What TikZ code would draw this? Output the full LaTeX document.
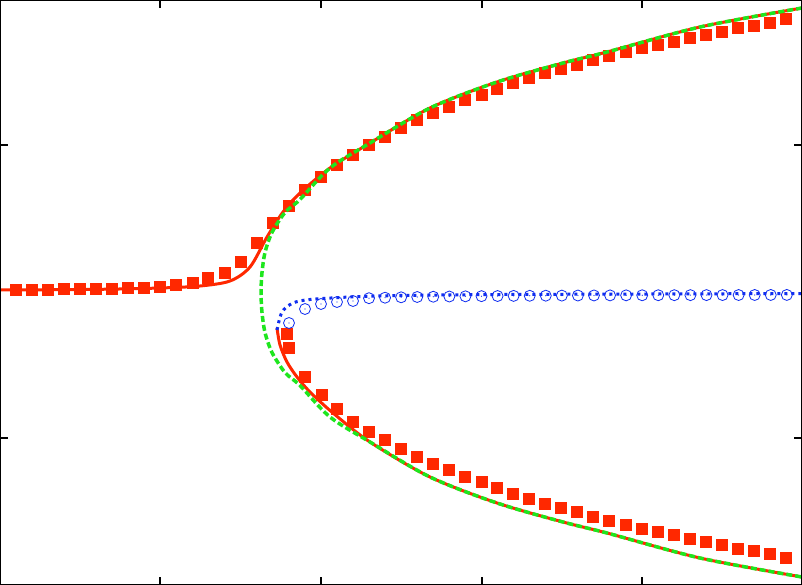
\documentclass[tikz,border=0pt]{standalone}
\definecolor{rd}{RGB}{255,40,0}
\definecolor{gr}{RGB}{30,230,30}
\definecolor{bl}{RGB}{15,45,240}
\begin{document}
\begin{tikzpicture}[x=1pt,y=-1pt,
  redline/.style={rd,line width=3pt},
  greenline/.style={gr,line width=3.5pt,dash pattern=on 6pt off 3pt},
  blueline/.style={bl,line width=3pt,dash pattern=on 3pt off 4pt},
  sq/.style={fill=rd},
  circ/.style={bl,line width=0.8pt}]
\useasboundingbox (0,0) rectangle (802,585);
\fill[white] (0,0) rectangle (802,585);
% red solid
\draw[redline] plot[smooth] coordinates {(0,290) (100,289.3) (160,288) (200,286) (230,281) (250,267) (267,237) (283,212) (300,193) (330,168) (370,143) (430,108) (497,82) (563,63) (607,52) (700,27) (802,8)};
\draw[redline] plot[smooth] coordinates {(277,328) (280,345) (287,362) (297,377) (310,392) (333,413) (370,442) (430,477) (497,503) (563,522) (607,533) (700,558) (802,577)};
% squares
\foreach \x/\y in {16/289.5,32/289.5,48/289.5,64/289.3,80/289,96/288.8,112/288.5,128/288,144/287.5,160/286.5,176/285,193/282.5,208/278,225/273,241/262,257/243,273/223,289/206,305/190,321/177,337/165,353/155,369/145,385/137,401/128,417/120,433/113,449/107,465/100,482/95,497/89,513/83,529/78,545/73,561/69,577/65,593/60,609/56,626/52,642/48,658/45,674/42,690/38,706/35,722/32,738/28,754/26,770/23,786/19}
  \fill[sq] (\x-6,\y-6) rectangle (\x+6,\y+6);
\foreach \x/\y in {287/334,289/348,305/377,322/395,337/409,353/422,369/432,385/440,401/449,417/457,433/464,449/470,465/477,482/482,497/488,513/494,529/499,545/504,561/508,577/512,593/517,609/521,626/525,642/529,658/532,674/535,690/539,706/542,722/545,738/549,754/551,770/554,786/558}
  \fill[sq] (\x-6,\y-6) rectangle (\x+6,\y+6);
% green dashed
\draw[greenline] plot[smooth] coordinates {(802,8) (700,27) (607,52) (563,63) (497,82) (430,108) (370,143) (330,168) (300,199.5) (285,212.5) (272,232.5) (265,252.5) (262,272.5) (261,292.5) (262,312.5) (265,332.5) (272,352.5) (285,372.5) (300,385.5) (330,417) (370,442) (430,477) (497,503) (563,522) (607,533) (700,558) (802,577)};
% blue circles
\foreach \x/\y in {289/323,305/309,321/304,337/302,353/301}
  {\draw[circ] (\x,\y) circle (5.5); \fill[bl] (\x,\y) circle (0.6);}
\foreach \i in {0,...,26}
  {\pgfmathsetmacro\xx{369+16.07*\i}\pgfmathsetmacro\yy{294+500/(\xx-250)}
   \draw[circ] (\xx,\yy) circle (5.5); \fill[bl] (\xx,\yy) circle (0.6);}
% blue dotted
\draw[blueline] plot[smooth] coordinates {(277,330) (282,312) (293,303) (310,299.5) (350,297) (400,295.5) (500,294.5) (650,294) (802,293.5)};
% frame and ticks
\draw[black,line width=1.5pt] (0,0) rectangle (802,585);
\foreach \x in {160,321,482,642}{\draw[line width=1.2pt] (\x,0)--(\x,8); \draw[line width=1.2pt] (\x,585)--(\x,577);}
\foreach \y in {145,438}{\draw[line width=1.2pt] (0,\y)--(8,\y); \draw[line width=1.2pt] (802,\y)--(794,\y);}
\end{tikzpicture}
\end{document}
